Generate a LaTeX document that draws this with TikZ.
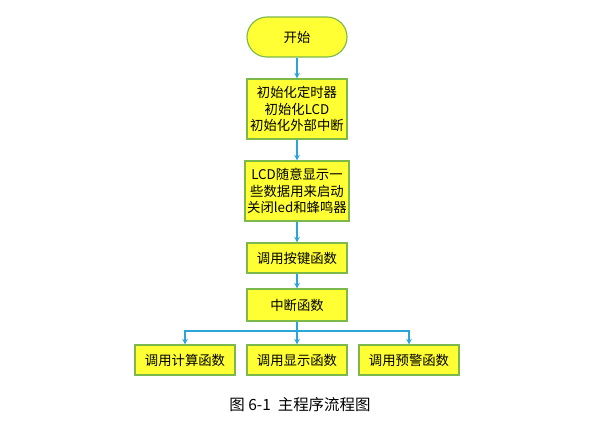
\documentclass[tikz,border=0pt]{standalone}
\usepackage{fontspec}
\setmainfont{Noto Sans CJK SC}
\usetikzlibrary{positioning,arrows.meta}
\definecolor{boxfill}{HTML}{FFFF33}
\definecolor{boxline}{HTML}{7DB84A}
\definecolor{flowline}{HTML}{2AA6D6}
\tikzset{
  stepbox/.style={draw=boxline, fill=boxfill, line width=0.8pt, minimum width=2.5cm,
    align=center, font=\fontsize{9.5}{11.5}\selectfont, inner sep=1pt},
  startbox/.style={stepbox, rounded corners=0.5cm, minimum height=1cm},
  flow/.style={->, >={Stealth[length=4pt,width=4pt]}, draw=flowline, line width=0.8pt}
}
\begin{document}
\begin{tikzpicture}[x=0.025cm, y=-0.025cm]
  \useasboundingbox (0,0) rectangle (610,437);
  %% 流程框
  \node[startbox] (start) at (297,37) {开始};
  \node[stepbox, minimum height=1.5cm] (init) at (297,109) {初始化定时器\\初始化LCD\\初始化外部中断};
  \node[stepbox, minimum width=2.6cm, minimum height=1.5cm] (lcd) at (297,191) {LCD随意显示一\\些数据用来启动\\关闭led和蜂鸣器};
  \node[stepbox, minimum height=0.75cm] (key) at (297,258) {调用按键函数};
  \node[stepbox, minimum height=0.8cm] (irq) at (297,305) {中断函数};
  \node[stepbox, minimum height=0.75cm] (calc) at (185,360) {调用计算函数};
  \node[stepbox, minimum height=0.75cm] (show) at (297,360) {调用显示函数};
  \node[stepbox, minimum height=0.75cm] (warn) at (409,360) {调用预警函数};
  %% 连线
  \draw[flow] (start) -- (init);
  \draw[flow] (init) -- (lcd);
  \draw[flow] (lcd) -- (key);
  \draw[flow] (key) -- (irq);
  \draw[flow] (irq) -- (show);
  \coordinate (fork) at (297,331);
  \draw[flow] (fork) -| (calc);
  \draw[flow] (fork) -| (warn);
  %% 图题
  \node[font=\fontsize{11}{13}\selectfont] (title) at (300,405) {图 6-1\ \ 主程序流程图};
\end{tikzpicture}
\end{document}
